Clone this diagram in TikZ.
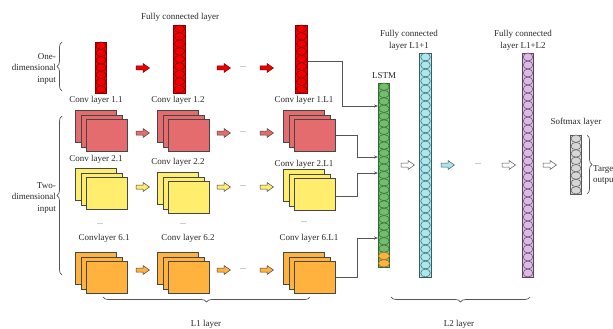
\documentclass[tikz,border=0pt]{standalone}
\usepackage{fontspec}
\setmainfont{Liberation Serif}
\usetikzlibrary{decorations.pathreplacing,arrows.meta}

\definecolor{txtgray}{RGB}{40,40,40}
\definecolor{linegray}{RGB}{85,85,85}
\definecolor{edgegray}{RGB}{70,70,70}
\definecolor{brightred}{RGB}{238,0,0}
\definecolor{darkred}{RGB}{130,0,0}
\definecolor{stackred}{RGB}{228,108,110}
\definecolor{stackyellow}{RGB}{255,238,110}
\definecolor{stackorange}{RGB}{255,178,62}
\definecolor{lstmgreen}{RGB}{112,190,110}
\definecolor{greenedge}{RGB}{50,105,50}
\definecolor{orangeedge}{RGB}{170,110,30}
\definecolor{fccyan}{RGB}{170,232,238}
\definecolor{cyanedge}{RGB}{60,90,95}
\definecolor{fcpink}{RGB}{222,184,230}
\definecolor{pinkedge}{RGB}{90,70,95}
\definecolor{smgray}{RGB}{215,215,215}
\definecolor{smedge}{RGB}{90,90,90}

\tikzset{
  lbl/.style={font=\fontsize{9}{11.5}\selectfont, text=txtgray, inner sep=0},
  dotlbl/.style={font=\fontsize{8}{9}\selectfont, text=linegray, inner sep=0},
  stackbox/.style={draw=edgegray, line width=0.6pt, minimum width=41pt,
    minimum height=32pt, inner sep=0, anchor=north west},
  conn/.style={draw=linegray, line width=0.7pt, -{Stealth[length=4pt,width=3.2pt]}},
  brc/.style={draw=linegray, line width=0.7pt, decorate,
    decoration={brace, amplitude=5pt}},
  barrow/.pic={\path[pic actions, line width=0.5pt]
    (0,-2)--(7,-2)--(7,-4.5)--(13.5,0)--(7,4.5)--(7,2)--(0,2)--cycle;},
}

% column of neurons: name, centre x, top, bottom, count, fill, edge, half width
\newcommand\ncolumn[8]{%
  \pgfmathsetmacro\colh{#4-#3}%
  \pgfmathsetmacro\cellh{(#4-#3)/#5}%
  \pgfmathsetmacro\cellr{\cellh/2}%
  \node[draw=#7, fill=#6, line width=0.6pt, inner sep=0, minimum width=11.5pt,
        minimum height=\colh pt, anchor=north] (#1) at (#2,#3) {};
  \foreach \k in {1,...,#5}{
    \draw[draw=#7, fill=#6, line width=0.5pt]
      (#2,{#3+(\k-0.5)*\cellh}) ellipse [x radius=#8pt, y radius=\cellr pt];
  }%
}

% stack of three feature maps: name of front map, x, y of back map, fill
\newcommand\cstack[4]{%
  \node[stackbox, fill=#4] at (#2,#3) {};
  \node[stackbox, fill=#4] at ({#2+5.5},{#3+4.5}) {};
  \node[stackbox, fill=#4] (#1) at ({#2+11},{#3+9}) {};
}

\begin{document}
\begin{tikzpicture}[x=1pt,y=-1pt]
\fill[white] (0,0) rectangle (613,329);
\useasboundingbox (0,0) rectangle (613,329);
\clip (0,0) rectangle (613,329);

% ---------- one-dimensional branch ----------
\node[lbl] (fctitle) at (180,17) {Fully connected layer};
\ncolumn{c11}{101}{42}{93}{7}{brightred}{darkred}{5}
\ncolumn{c12}{179.5}{25}{93}{9}{brightred}{darkred}{5}
\ncolumn{c1L}{301.5}{25}{93}{9}{brightred}{darkred}{5}
\node[lbl] (l11) at (96,100.5) {Conv layer 1.1};
\node[lbl] (l12) at (178,100.5) {Conv layer 1.2};
\node[lbl] (l1L) at (304,100.5) {Conv layer 1.L1};
\foreach \ax in {136,217,260}
  \pic[fill=brightred, draw=darkred] at (\ax,68) {barrow};
\node[dotlbl] (d1) at (243,67) {...};

% ---------- two-dimensional branch ----------
\cstack{r21}{75}{110}{stackred}
\cstack{r22}{157}{110}{stackred}
\cstack{r2L}{283}{110}{stackred}
\node[lbl] (l21) at (96,159) {Conv layer 2.1};
\node[lbl] (l22) at (178,162) {Conv layer 2.2};
\node[lbl] (l2L) at (304,164) {Conv layer 2.L1};
\foreach \ax in {136,217,260}
  \pic[fill=stackred, draw=edgegray] at (\ax,133) {barrow};
\node[dotlbl] (d2) at (243,132) {...};

\cstack{y21}{75}{168}{stackyellow}
\cstack{y22}{157}{172}{stackyellow}
\cstack{y2L}{283}{169}{stackyellow}
\foreach \ax in {136,217,260}
  \pic[fill=stackyellow, draw=edgegray] at (\ax,187) {barrow};
\node[dotlbl] (d3) at (243,186) {...};

\node[dotlbl] (v1) at (100,224) {...};
\node[dotlbl] (v2) at (183,224) {...};
\node[dotlbl] (v3) at (304,222) {...};

\node[lbl] (l61) at (104,238.5) {Convlayer 6.1};
\node[lbl] (l62) at (188,238.5) {Conv layer 6.2};
\node[lbl] (l6L) at (309,238.5) {Conv layer 6.L1};
\cstack{o61}{75}{252}{stackorange}
\cstack{o62}{157}{252}{stackorange}
\cstack{o6L}{283}{252}{stackorange}
\foreach \ax in {136,217,260}
  \pic[fill=stackorange, draw=edgegray] at (\ax,270) {barrow};
\node[dotlbl] (d4) at (243,269) {...};

% ---------- input braces ----------
\draw[brc] (62,91) -- (62,42);
\node[lbl, align=right, anchor=east] (in1) at (56,68.5) {One-\\dimensional\\input};
\draw[brc] (62,275) -- (62,116);
\node[lbl, align=right, anchor=east] (in2) at (56,198) {Two-\\dimensional\\input};

% ---------- LSTM ----------
\node[lbl] (lstmlbl) at (384,76) {LSTM};
\ncolumn{lstm}{384}{83}{267}{25}{lstmgreen}{greenedge}{5.2}
\foreach \k in {24,25}
  \draw[draw=orangeedge, fill=stackorange, line width=0.5pt]
    (384,{83+(\k-0.5)*7.36}) ellipse [x radius=5.6pt, y radius=3.68pt];

\draw[conn] (c1L.east |- 0,61) -- ++(35,0) |- (lstm.west |- 0,106);
\draw[conn] (r2L.east) -- ++(22,0) |- (lstm.west |- 0,157);
\draw[conn] ([yshift=-2pt]y2L.east) -- ++(22,0) |- (lstm.west |- 0,173);
\draw[conn] (o6L.east) -- ++(22,0) |- (lstm.west |- 0,238);

% ---------- fully connected layers and softmax ----------
\node[lbl, align=center] (fc1lbl) at (409,40.5) {Fully connected\\layer L1+1};
\ncolumn{fc1}{425.5}{53}{277}{28}{fccyan}{cyanedge}{4.8}
\node[lbl, align=center] (fc2lbl) at (523,40.5) {Fully connected\\layer L1+L2};
\ncolumn{fc2}{528}{53}{277}{28}{fcpink}{pinkedge}{4.8}

\pic[fill=white, draw=linegray] at (401,165) {barrow};
\pic[fill=fccyan, draw=linegray] at (441,165) {barrow};
\node[dotlbl] (d5) at (478,164) {...};
\pic[fill=white, draw=linegray] at (502,165) {barrow};
\pic[fill=white, draw=linegray] at (543,165) {barrow};

\node[lbl] (smlbl) at (576,122) {Softmax layer};
\ncolumn{sm}{576}{135}{194}{8}{smgray}{smedge}{5}
\draw[brc] (587,135) -- (587,194);
\node[lbl, align=left, anchor=west] (tgt) at (593,175) {Target\\output};

% ---------- layer braces ----------
\draw[brc] (310,297) -- (103,297);
\node[lbl] (l1layer) at (206,324) {L1 layer};
\draw[brc] (530,297) -- (391,297);
\node[lbl] (l2layer) at (459,324) {L2 layer};
\end{tikzpicture}
\end{document}
